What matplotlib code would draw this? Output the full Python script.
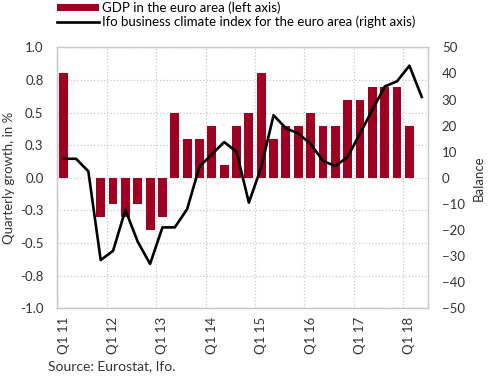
#!/usr/bin/env python3
"""Euro area GDP growth (bars, left axis) vs Ifo business climate (line, right axis)."""

import matplotlib
matplotlib.use("Agg")
import matplotlib.pyplot as plt
from matplotlib.patches import Patch
from matplotlib.lines import Line2D

# one entry per quarter, Q1 11 .. Q2 18
quarters = [f"Q{q} {y:02d}" for y in range(11, 19) for q in range(1, 5)][:30]
gdp = [0.8, 0.0, 0.0, -0.3, -0.2, -0.3, -0.2, -0.4, -0.3, 0.5,
       0.3, 0.3, 0.4, 0.1, 0.4, 0.5, 0.8, 0.3, 0.4, 0.4,
       0.5, 0.4, 0.4, 0.6, 0.6, 0.7, 0.7, 0.7, 0.4, None]
ifo = [7.3, 7.3, 2.5, -31.5, -28, -12.3, -24.5, -33, -19, -19,
       -12, 4.3, 9, 13.7, 10, -9.5, 4, 24, 19, 17,
       13, 6.5, 4.5, 8, 17, 26, 35, 37, 43, 31]

left_ticks = [-1.0, -0.75, -0.5, -0.25, 0.0, 0.25, 0.5, 0.75, 1.0]
left_labels = ["-1.0", "-0.8", "-0.5", "-0.3", "0.0", "0.3", "0.5", "0.8", "1.0"]
right_ticks = list(range(-50, 51, 10))

RED = "#9e0022"
GRID = "#c8c8c8"
TXT = "#333333"

plt.rcParams["font.family"] = ["Lato", "DejaVu Sans"]
plt.rcParams["font.size"] = 9.5

fig = plt.figure(figsize=(4.9, 3.82), dpi=100)
ax = fig.add_axes([0.1173, 0.193, 0.756, 0.683])
ax2 = ax.twinx()

x = list(range(len(quarters)))
bx = [i for i, v in zip(x, gdp) if v is not None]
bv = [v for v in gdp if v is not None]
ax.bar(bx, bv, width=0.72, color=RED, zorder=2)
ax2.plot(x, ifo, color="black", lw=1.9, zorder=3)

ax.set_xlim(-0.5, len(quarters) - 0.5)
ax.set_ylim(-1, 1)
ax2.set_ylim(-50, 50)

ax.set_yticks(left_ticks)
ax.set_yticklabels(left_labels)
ax2.set_yticks(right_ticks)

ax.set_xticks(x[::4])
ax.set_xticklabels(quarters[::4], rotation=90)
ax.set_xticks([i - 0.5 for i in x[::4]], minor=True)

ax.grid(True, axis="y", ls=":", color=GRID, lw=0.9, zorder=0)
ax.grid(True, axis="x", which="minor", ls=":", color=GRID, lw=0.9, zorder=0)
ax.set_axisbelow(True)

for a in (ax, ax2):
    for s in a.spines.values():
        s.set_color(GRID)
        s.set_linewidth(0.9)
    a.tick_params(length=0, which="both", labelcolor=TXT)
ax.tick_params(axis="y", pad=10)
ax.tick_params(axis="x", pad=6)
ax2.tick_params(axis="y", pad=10)

ax.set_ylabel("Quarterly growth, in %", labelpad=4, color=TXT)
ax2.set_ylabel("Balance", labelpad=6, color=TXT)

handles = [Patch(facecolor=RED),
           Line2D([], [], color="black", lw=1.9)]
labels = ["GDP in the euro area (left axis)",
          "Ifo business climate index for the euro area (right axis)"]
fig.legend(handles, labels, loc="upper left", bbox_to_anchor=(0.105, 1.01),
           frameon=False, handlelength=3.2, handleheight=0.5,
           handletextpad=0.2, labelspacing=0.1, borderaxespad=0)

fig.text(0.097, 0.032, "Source: Eurostat, Ifo.", fontsize=10, color=TXT)

fig.savefig("out.png", dpi=100)
